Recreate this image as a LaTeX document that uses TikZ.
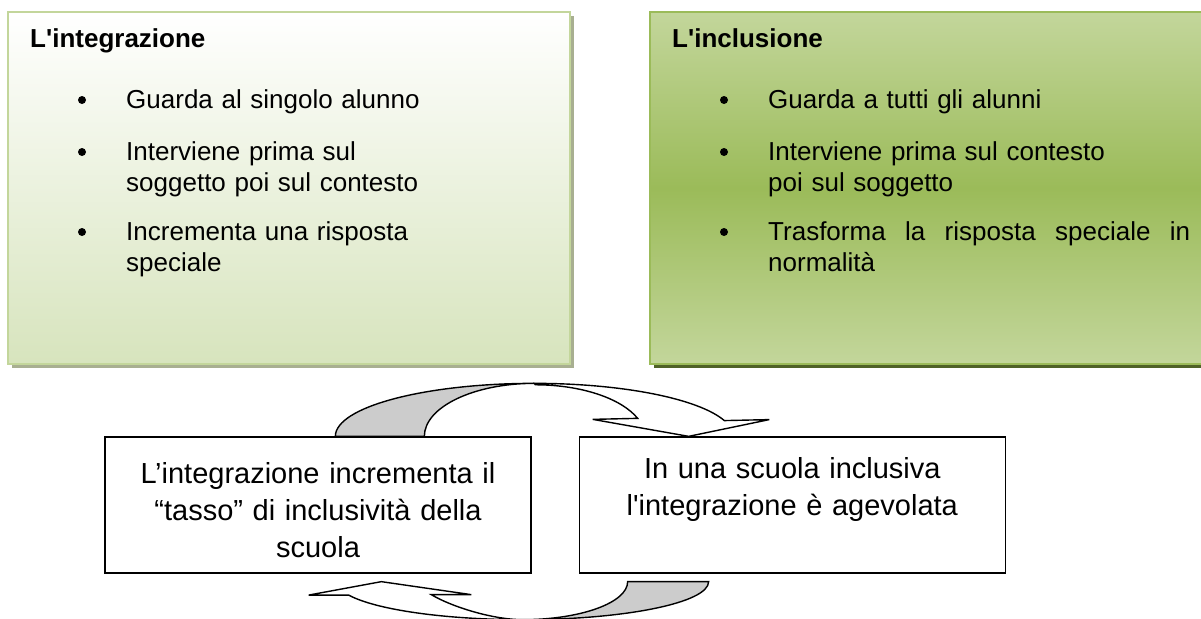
\documentclass[tikz,border=0pt]{standalone}
\usepackage{fontspec}
\setmainfont{Liberation Sans}
\usetikzlibrary{positioning,calc,shadows}

\definecolor{paleleaf}{HTML}{D7E4BD}
\definecolor{leafedge}{HTML}{C3D69B}
\definecolor{leaf}{HTML}{9BBB59}
\definecolor{leafdark}{HTML}{4F6228}
\definecolor{leafgrey}{HTML}{A8AF91}
\definecolor{footgrey}{HTML}{CCCCCC}

\begin{document}
\begin{tikzpicture}[x=1pt,y=1pt,
    panel/.style={rectangle,inner sep=0pt,minimum width=562pt,minimum height=352pt,line width=2.5pt},
    head/.style={anchor=base west,inner sep=0pt,font=\bfseries\fontsize{26}{31}\selectfont},
    point/.style={anchor=base west,inner sep=0pt,text width=430pt,align=left,font=\fontsize{26}{31}\selectfont},
    dot/.style={circle,fill=black,inner sep=0pt,minimum size=8pt},
    claim/.style={rectangle,draw,line width=1.3pt,fill=white,minimum width=426pt,minimum height=136pt,
        text width=410pt,align=center,font=\fontsize{29}{37}\selectfont},
    band/.style={draw,line width=1.4pt,fill=white}]

  \path[use as bounding box] (0,0) rectangle (1201,-618);
  \clip (0,0) rectangle (1201,-618);

  % the two coloured panels
  \node[panel,draw=leafedge,top color=white,bottom color=paleleaf,
        drop shadow={shadow xshift=4pt,shadow yshift=-4pt,fill=leafgrey,opacity=1}] (integ) at (289,-188) {};
  \node[panel,minimum width=570pt,draw=leaf,top color=leafedge,bottom color=leafedge,middle color=leaf,
        drop shadow={shadow xshift=4pt,shadow yshift=-4pt,fill=leafdark,opacity=1}] (incl) at (935,-188) {};

  \node[head] (ihead) at (30,-48) {L\textquotesingle integrazione};
  \node[dot] (id1) at (82,-100) {};
  \node[point] (i1) at (126,-108) {Guarda al singolo alunno};
  \node[dot] (id2) at (82,-152) {};
  \node[point] (i2) at (126,-160) {Interviene prima sul\\soggetto poi sul contesto};
  \node[dot] (id3) at (82,-232) {};
  \node[point] (i3) at (126,-240) {Incrementa una risposta\\speciale};

  \node[head] (chead) at (672,-48) {L\textquotesingle inclusione};
  \node[dot] (cd1) at (724,-100) {};
  \node[point] (c1) at (768,-108) {Guarda a tutti gli alunni};
  \node[dot] (cd2) at (724,-152) {};
  \node[point] (c2) at (768,-160) {Interviene prima sul contesto\\poi sul soggetto};
  \node[dot] (cd3) at (724,-232) {};
  \node[point] (c3) at (768,-240) {\hbox to 422pt{Trasforma\hfill la\hfill risposta\hfill speciale\hfill in}\\normalità};

  % the two statements
  \node[claim] (tasso) at (318,-505) {\rule{0pt}{31pt}L’integrazione incrementa il\\“tasso” di inclusività della\\scuola};
  \node[claim,right=47pt of tasso] (agevola) {In una scuola inclusiva\\l\textquotesingle integrazione è agevolata\\\mbox{}};

  \coordinate (upfoot) at ($(tasso.north west)+(231,0)$);
  \coordinate (uptip) at ($(agevola.north west)+(110,0)$);
  \coordinate (downfoot) at ($(agevola.south west)+(130,-8)$);
  \coordinate (downtip) at ($(tasso.south west)+(277,-8)$);

  % curved arrow over the top
  \draw[band,fill=footgrey] (upfoot) arc[start angle=180,end angle=90,x radius=199,y radius=53]
      arc[start angle=90,end angle=180,x radius=110,y radius=53] -- cycle;
  \draw[band] ($(upfoot)+(199,53)$) arc[start angle=90,end angle=17.3,x radius=199,y radius=53]
      -- ++(45,1) -- (uptip) -- ++(-96,17) -- ++(45,1)
      arc[start angle=21.5,end angle=90,x radius=110,y radius=53] -- cycle;

  % curved arrow underneath
  \draw[band,fill=footgrey] (downfoot) arc[start angle=0,end angle=-90,x radius=186,y radius=38]
      arc[start angle=-90,end angle=0,x radius=105,y radius=38] -- cycle;
  \draw[band] ($(downfoot)+(-186,-38)$) arc[start angle=-90,end angle=-159.3,x radius=186,y radius=38]
      -- ++(-40,0) -- (downtip) -- ++(90,-13) -- ++(-40,0)
      .. controls +(20,-12) and +(-30,0) .. ($(downfoot)+(-186,-38)$) -- cycle;

\end{tikzpicture}
\end{document}
